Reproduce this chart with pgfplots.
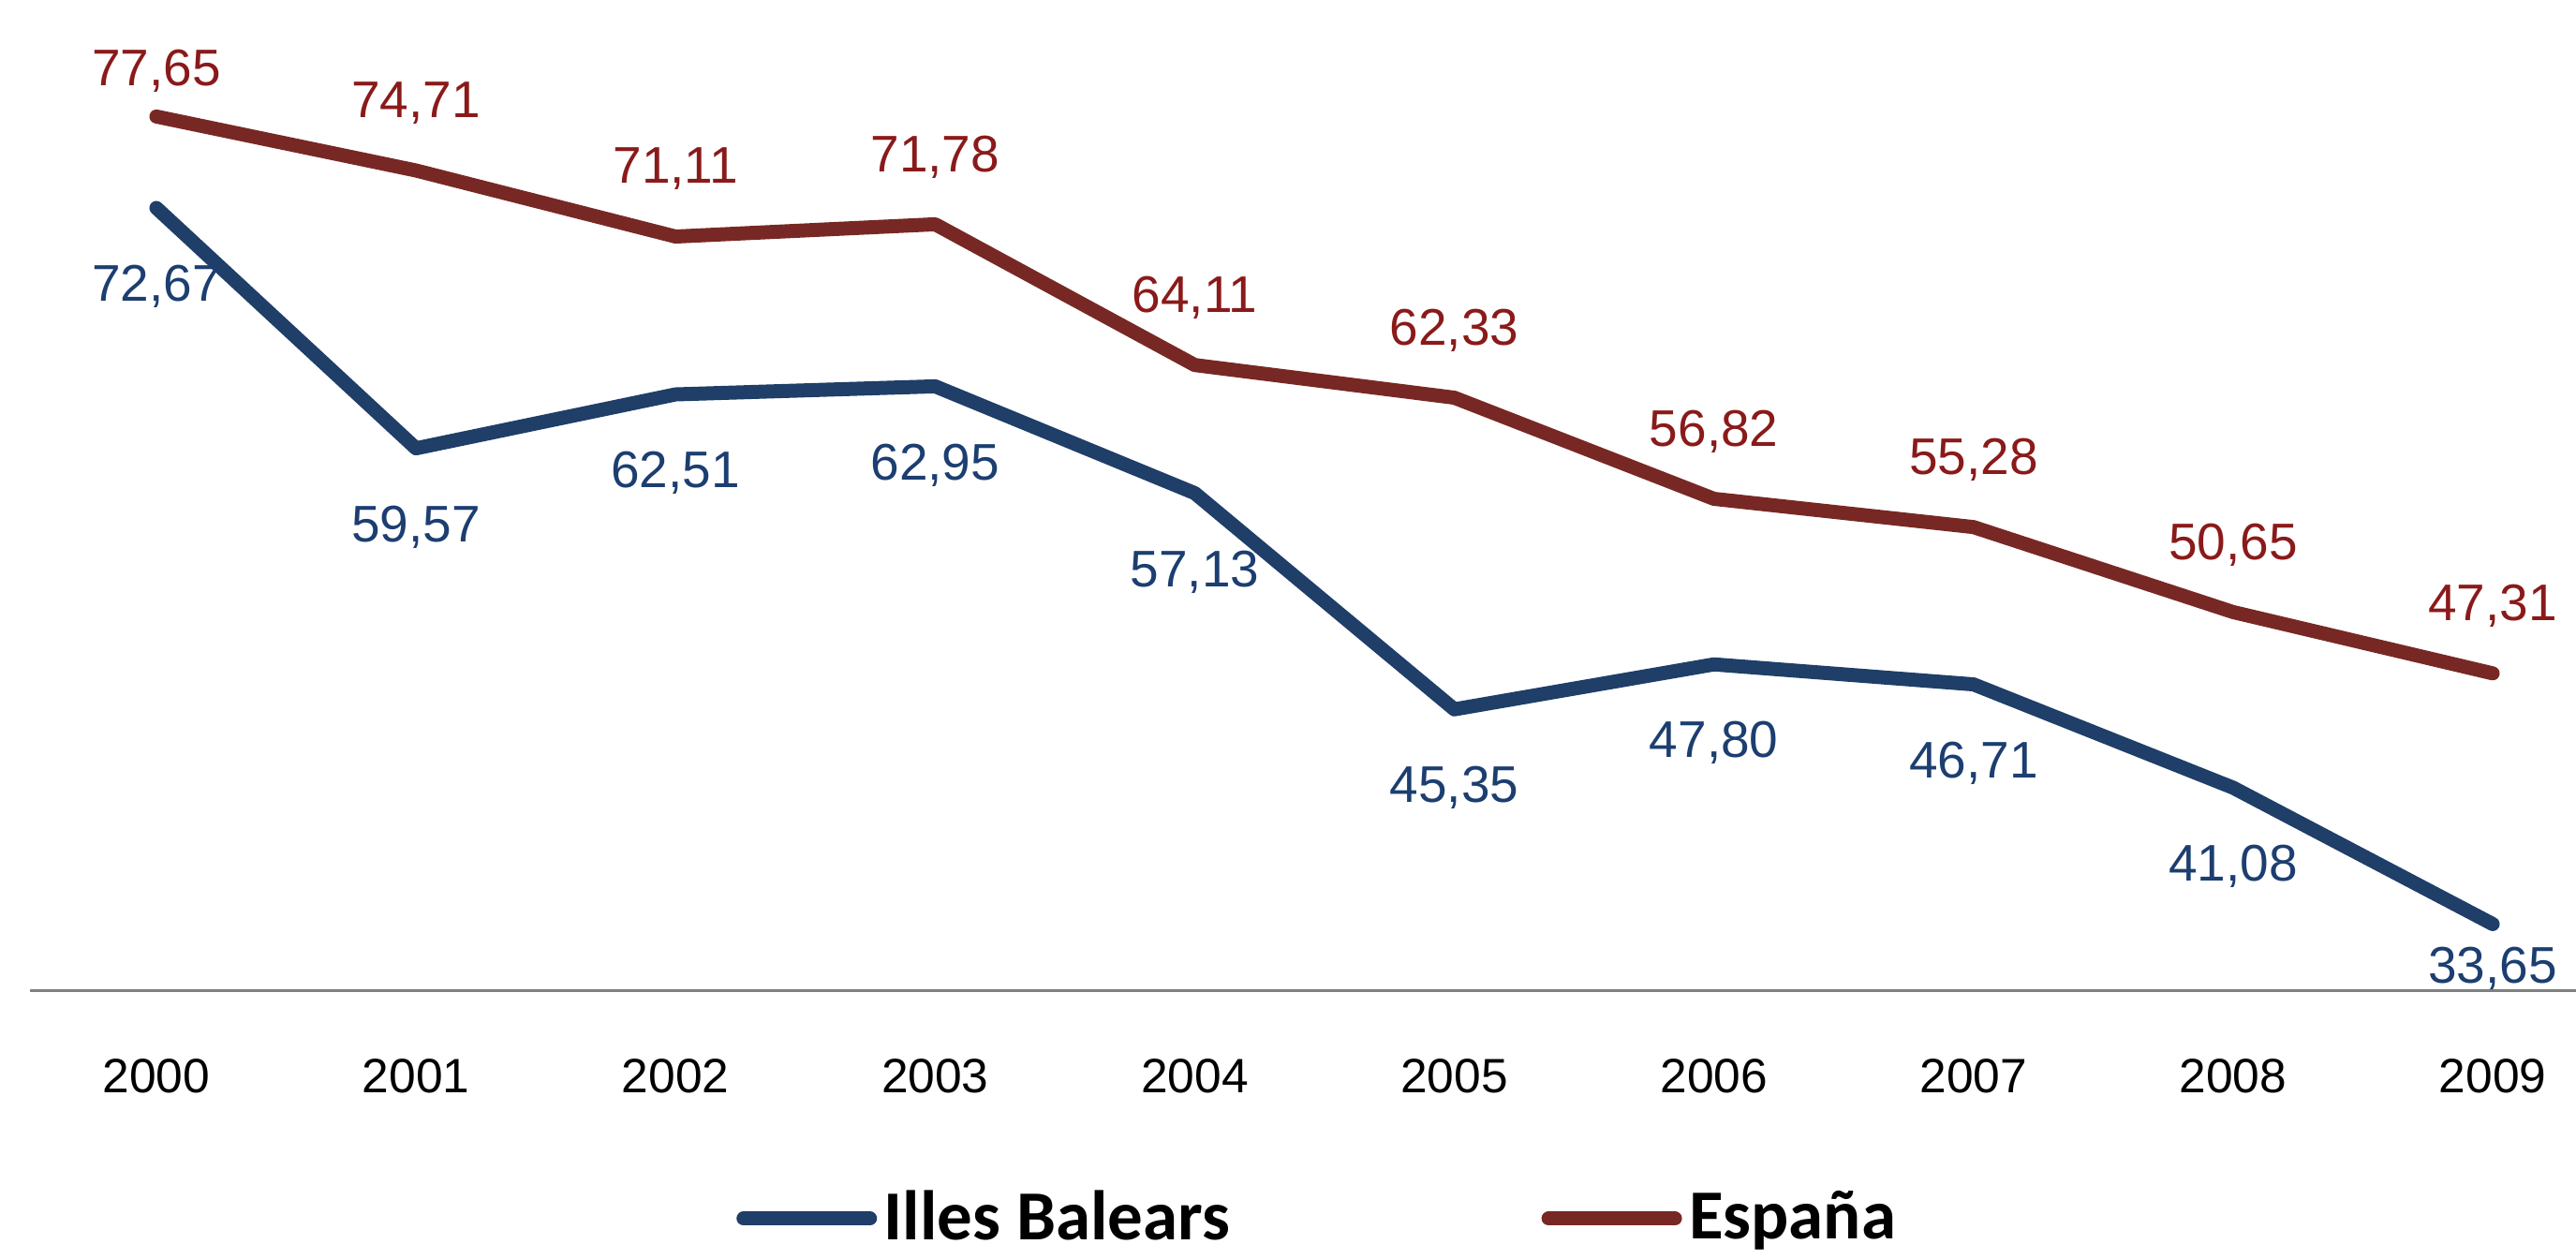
\documentclass[border=0pt]{standalone}
\usepackage{fontspec}
\setmainfont{Liberation Sans}
\newfontfamily\legfont{Carlito}
\usepackage{pgfplots}
\pgfplotsset{compat=1.18}
\usepackage{pgfplotstable}

\definecolor{ibline}{RGB}{31,62,104}
\definecolor{esline}{RGB}{120,40,36}
\definecolor{ibtext}{RGB}{28,62,112}
\definecolor{estext}{RGB}{138,26,26}
\definecolor{axisgray}{RGB}{128,128,128}

\pgfplotstableread{
x y dy
0 72.67 -16.8
1 59.57 -16.8
2 62.51 -16.8
3 62.95 -16.8
4 57.13 -16.8
5 45.35 -16.8
6 47.80 -16.8
7 46.71 -16.8
8 41.08 -16.8
9 33.65 -9.5
}\ibdata

\pgfplotstableread{
x y dy
0 77.65 9.8
1 74.71 14.4
2 71.11 14.4
3 71.78 14.4
4 64.11 14.4
5 62.33 14.4
6 56.82 14.4
7 55.28 14.4
8 50.65 14.4
9 47.31 14.4
}\esdata

\begin{document}
\begin{tikzpicture}
\begin{axis}[
  name=ax,
  scale only axis,
  width=543.6pt, height=211.6pt,
  xmin=-0.487, xmax=9.321, ymin=30, ymax=84,
  axis x line=bottom, axis y line=none,
  x axis line style={-, draw=axisgray, line width=0.6pt},
  xtick={0,1,2,3,4,5,6,7,8,9},
  xticklabels={2000,2001,2002,2003,2004,2005,2006,2007,2008,2009},
  major tick length=0pt,
  xticklabel style={font=\fontsize{10.3}{12}\selectfont, anchor=center, yshift=-18.2pt, text=black},
  ytick=\empty,
  clip=false,
  nodes near coords={\pgfmathprintnumber[use comma,fixed,fixed zerofill,precision=2,assume math mode=true]{\pgfplotspointmeta}},
  visualization depends on={\thisrow{dy} \as \dy},
  every node near coord/.append style={anchor=center, yshift=\dy pt, font=\fontsize{11}{13}\selectfont},
  legend style={at={(0.5066,-0.2295)}, anchor=center, draw=none, fill=none,
    font=\legfont\bfseries\fontsize{15}{18}\selectfont,
    /tikz/every even column/.append style={column sep=65pt},
    nodes={inner sep=1.5pt}},
  legend columns=2,
  legend image code/.code={\draw[#1, line cap=round] (0pt,0pt) -- (27pt,0pt);},
]
\addplot[ibline, line width=3pt, line cap=round, line join=round, mark=none,
  every node near coord/.append style={text=ibtext}] table[x=x,y=y] {\ibdata};
\addlegendentry{Illes Balears}
\addplot[esline, line width=3pt, line cap=round, line join=round, mark=none,
  every node near coord/.append style={text=estext}] table[x=x,y=y] {\esdata};
\addlegendentry{España}
\end{axis}
\pgfresetboundingbox
\path (ax.south west) ++(-6.4pt,-57.2pt) rectangle (ax.north east);
\end{tikzpicture}
\end{document}
